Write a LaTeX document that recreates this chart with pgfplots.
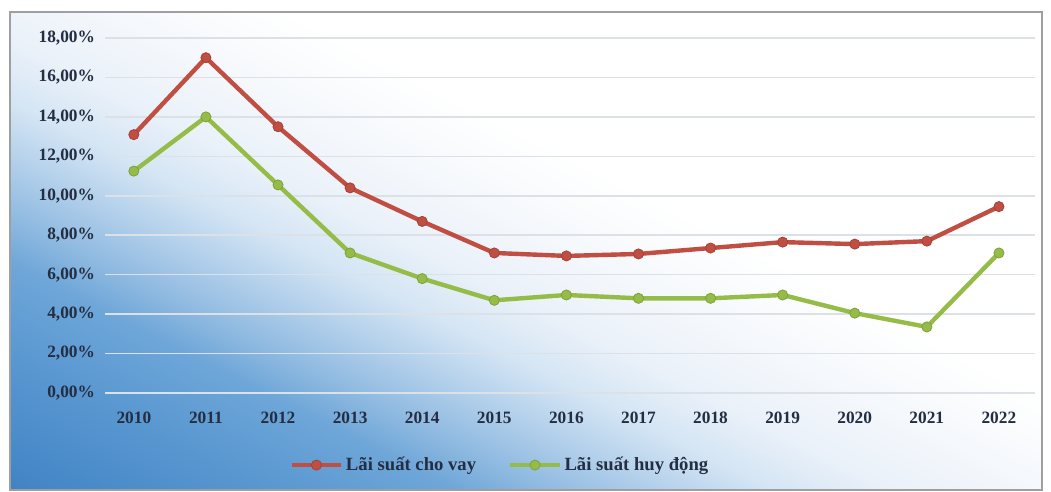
\documentclass[border=0pt]{standalone}
\usepackage{fontspec}
\setmainfont{Liberation Serif}
\usepackage{pgfplots}
\pgfplotsset{compat=1.18}
\definecolor{bg0}{RGB}{50,118,188}
\definecolor{bg1}{RGB}{62,128,194}
\definecolor{bg2}{RGB}{70,136,200}
\definecolor{bg3}{RGB}{88,150,208}
\definecolor{bg4}{RGB}{98,158,212}
\definecolor{bg5}{RGB}{110,166,216}
\definecolor{bg6}{RGB}{145,187,225}
\definecolor{bg7}{RGB}{176,206,234}
\definecolor{bg8}{RGB}{212,229,244}
\definecolor{bg9}{RGB}{234,241,249}
\definecolor{bg10}{RGB}{245,248,252}
\definecolor{gridc}{RGB}{220,225,231}
\definecolor{redl}{RGB}{192,78,66}
\definecolor{greenl}{RGB}{150,188,72}
\definecolor{txt}{RGB}{36,46,66}
\pgfdeclareverticalshading{bgshade}{100bp}{color(0bp)=(bg0); color(25bp)=(bg0); color(31.25bp)=(bg1); color(33.5bp)=(bg2); color(38.9bp)=(bg3); color(41.5bp)=(bg4); color(44.4bp)=(bg5); color(47.2bp)=(bg6); color(50bp)=(bg7); color(53.4bp)=(bg8); color(56.9bp)=(bg9); color(61.25bp)=(bg10); color(66.25bp)=(white); color(100bp)=(white)}
\begin{document}
\begin{tikzpicture}
\path[use as bounding box] (0pt,0pt) rectangle (788.25pt,369pt);
\begin{scope}
\clip (7.5pt,1.5pt) rectangle (781.5pt,360pt);
\begin{scope}[transform canvas={shift={(232.5pt,132pt)}, rotate=-27}]
\shade[shading=bgshade] (-1125pt,-300pt) rectangle (1125pt,300pt);
\end{scope}
\end{scope}
\draw[gray!75, line width=1pt] (7.5pt,1.5pt) rectangle (781.5pt,360pt);
\begin{axis}[
  at={(78.75pt,74.25pt)}, anchor=south west,
  scale only axis, width=697.5pt, height=266.25pt,
  xmin=2009.6, xmax=2022.5, ymin=0, ymax=18,
  xtick={2010,...,2022},
  xticklabels={2010,2011,2012,2013,2014,2015,2016,2017,2018,2019,2020,2021,2022},
  ytick={0,2,...,18},
  yticklabel={\pgfmathprintnumber[fixed,fixed zerofill,precision=2,use comma]{\tick}\%},
  /pgf/number format/assume math mode=true,
  axis line style={draw=none},
  tick style={draw=none},
  ymajorgrids, grid style={gridc, line width=1.2pt},
  ticklabel style={font=\fontsize{13}{15}\selectfont\bfseries, text=txt},
  yticklabel style={xshift=-4pt},
  xticklabel style={yshift=-11pt},
  legend image code/.code={\draw[mark repeat=2,mark phase=2] plot coordinates {(0cm,0cm) (0.65cm,0cm) (1.3cm,0cm)};},
  legend style={at={(0.425,-0.203)}, anchor=center, draw=none, fill=none,
    font=\fontsize{14}{16}\selectfont\bfseries, text=txt, legend columns=2,
    /tikz/every even column/.append style={column sep=22pt}},
]
\addplot[redl, line width=3.3pt, mark=*, mark size=3.8pt, mark options={fill=redl, draw=redl!85!black, line width=0.6pt}] coordinates {
(2010,13.1) (2011,17.0) (2012,13.5) (2013,10.4) (2014,8.7) (2015,7.1) (2016,6.95) (2017,7.05) (2018,7.35) (2019,7.65) (2020,7.55) (2021,7.7) (2022,9.45)};
\addlegendentry{Lãi suất cho vay}
\addplot[greenl, line width=3.3pt, mark=*, mark size=3.8pt, mark options={fill=greenl, draw=greenl!85!black, line width=0.6pt}] coordinates {
(2010,11.25) (2011,14.0) (2012,10.55) (2013,7.1) (2014,5.8) (2015,4.7) (2016,4.97) (2017,4.8) (2018,4.8) (2019,4.97) (2020,4.05) (2021,3.35) (2022,7.1)};
\addlegendentry{Lãi suất huy động}
\end{axis}
\end{tikzpicture}
\end{document}
